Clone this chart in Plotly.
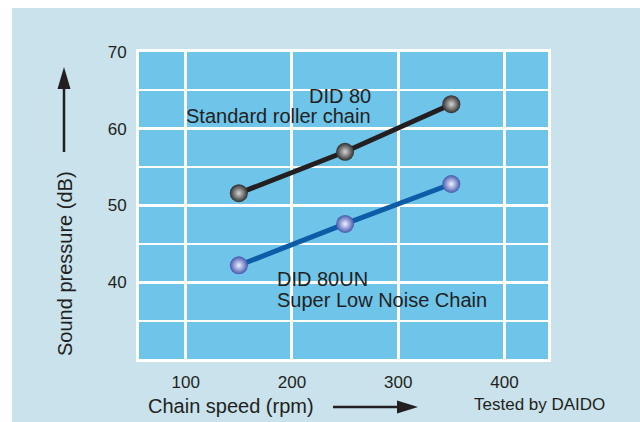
import plotly.graph_objects as go

# ---- data ----
speed_rpm = [150, 250, 350]
did80_db = [51.6, 57.0, 63.2]
did80un_db = [42.2, 47.6, 52.8]
x_ticks = [100, 200, 300, 400]
y_ticks = [40, 50, 60, 70]
y_minor = [35, 45, 55, 65]

W, H = 640, 422
L, R, T, B = 139, 92, 52, 63
PW, PH = W - L - R, H - T - B


def px(x):
    return (x - L) / PW


def py(y):
    return (H - B - y) / PH


TXT = "#231F20"
FONT = "Liberation Sans, Arial, Helvetica, sans-serif"

fig = go.Figure()
fig.add_trace(go.Scatter(
    x=speed_rpm, y=did80_db, mode="lines+markers",
    line=dict(color="#231F20", width=5),
    marker=dict(size=18, color="#2e2e2e", line=dict(width=0),
                gradient=dict(type="radial", color="#d4d4d4")),
    showlegend=False, hoverinfo="skip"))
fig.add_trace(go.Scatter(
    x=speed_rpm, y=did80un_db, mode="lines+markers",
    line=dict(color="#0C5CA8", width=5),
    marker=dict(size=18, color="#4657AE", line=dict(width=0),
                gradient=dict(type="radial", color="#eef2ff")),
    showlegend=False, hoverinfo="skip"))

shapes = [
    # white outer margins
    dict(type="rect", xref="paper", yref="paper", x0=px(0), x1=px(W), y0=py(0), y1=py(8),
         fillcolor="white", line=dict(width=0), layer="below"),
    dict(type="rect", xref="paper", yref="paper", x0=px(0), x1=px(12), y0=py(0), y1=py(H),
         fillcolor="white", line=dict(width=0), layer="below"),
    # vertical arrow
    dict(type="line", xref="paper", yref="paper", x0=px(64), x1=px(64), y0=py(152), y1=py(82),
         line=dict(color=TXT, width=2.5)),
    dict(type="path", xref="paper", yref="paper",
         path=f"M {px(64)} {py(67)} L {px(57.5)} {py(89)} L {px(70.5)} {py(89)} Z",
         fillcolor=TXT, line=dict(width=0)),
    # horizontal arrow
    dict(type="line", xref="paper", yref="paper", x0=px(333), x1=px(402), y0=py(407), y1=py(407),
         line=dict(color=TXT, width=2.5)),
    dict(type="path", xref="paper", yref="paper",
         path=f"M {px(418)} {py(407)} L {px(397)} {py(400.5)} L {px(397)} {py(413.5)} Z",
         fillcolor=TXT, line=dict(width=0)),
]


def ann(text, x, y, xanchor="center", size=20, angle=0):
    return dict(text=text, xref="paper", yref="paper", x=px(x), y=py(y),
                xanchor=xanchor, yanchor="middle", showarrow=False, textangle=angle,
                font=dict(family=FONT, size=size, color=TXT))


annotations = [
    ann("DID 80", 373, 96, "right"),
    ann("Standard roller chain", 373, 116, "right"),
    ann("DID 80UN", 275, 279, "left"),
    ann("Super Low Noise Chain", 275, 300, "left"),
    ann("Sound pressure (dB)", 65, 264, "center", angle=-90),
    ann("Chain speed (rpm)", 231, 406),
    ann("Tested by DAIDO", 539, 404, size=17),
]

fig.update_layout(
    width=W, height=H,
    margin=dict(l=L, r=R, t=T, b=B, pad=0),
    paper_bgcolor="#C9E2EC",
    plot_bgcolor="#6EC4E9",
    shapes=shapes,
    annotations=annotations,
    font=dict(family=FONT, color=TXT),
    xaxis=dict(range=[56, 441], tickvals=x_ticks, showgrid=True, gridcolor="white", gridwidth=3,
               zeroline=False, showline=True, mirror=True, linecolor="white", linewidth=3,
               ticks="outside", ticklen=6, tickcolor="rgba(0,0,0,0)",
               tickfont=dict(size=17, color=TXT, family=FONT)),
    yaxis=dict(range=[30, 70], tickvals=y_ticks, showgrid=True, gridcolor="white", gridwidth=3,
               minor=dict(tickvals=y_minor, showgrid=True, gridcolor="white", gridwidth=2),
               zeroline=False, showline=True, mirror=True, linecolor="white", linewidth=3,
               ticks="outside", ticklen=6, tickcolor="rgba(0,0,0,0)",
               tickfont=dict(size=17, color=TXT, family=FONT)),
)

fig.write_html("out.html", config={"displayModeBar": False},
               post_script="document.body.style.margin='0';document.body.style.overflow='hidden';")
